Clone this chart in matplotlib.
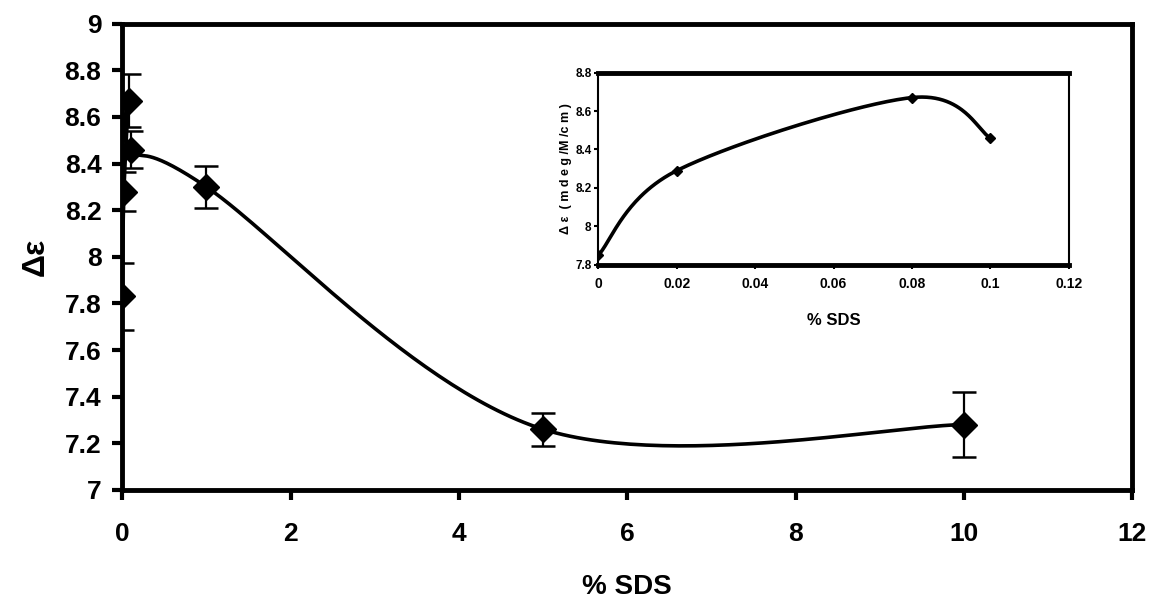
import numpy as np
import matplotlib.pyplot as plt

# main chart data
sds = [0, 0.02, 0.08, 0.1, 1, 5, 10]
de = [7.83, 8.28, 8.67, 8.46, 8.30, 7.26, 7.28]
de_err = [0.145, 0.085, 0.115, 0.08, 0.09, 0.07, 0.14]

# inset data
sds_in = [0, 0.02, 0.08, 0.1]
de_in = [7.85, 8.29, 8.67, 8.46]

arial = ['Liberation Sans', 'DejaVu Sans']


def smooth(x_, y_, n_=60):
    # excel-like smoothed line: bezier with control points (P2 - P0) / 6
    p = np.column_stack([x_, y_]).astype(float)
    out = []
    for i in range(len(p) - 1):
        p0 = p[i - 1] if i > 0 else p[i]
        p1, p2 = p[i], p[i + 1]
        p3 = p[i + 2] if i + 2 < len(p) else p[i + 1]
        c1 = p1 + (p2 - p0) / 6
        c2 = p2 - (p3 - p1) / 6
        t = np.linspace(0, 1, n_)[:, None]
        seg = (1 - t) ** 3 * p1 + 3 * (1 - t) ** 2 * t * c1 + 3 * (1 - t) * t ** 2 * c2 + t ** 3 * p2
        out.append(seg)
    out = np.vstack(out)
    return out[:, 0], out[:, 1]


fig = plt.figure(figsize=(11.53, 6.10), dpi=100)
ax = fig.add_axes([0.106, 0.197, 0.876, 0.764])

sx, sy = smooth(sds, de)
ax.plot(sx, sy, color='black', lw=2.6, zorder=2)
ax.errorbar(sds, de, yerr=de_err, fmt='D', color='black', ms=13, ecolor='black',
            elinewidth=1.6, capsize=8.5, capthick=1.8, zorder=3)

ax.set_xlim(0, 12)
ax.set_ylim(7, 9)
ax.set_xticks(np.arange(0, 13, 2))
ax.set_yticks(np.arange(7, 9.01, 0.2))
ax.set_yticklabels([f"{v:g}" for v in np.round(np.arange(7, 9.01, 0.2), 1)],
                   fontsize=19, fontweight='bold', family=arial)
ax.set_xticklabels([str(v) for v in range(0, 13, 2)], fontsize=19, fontweight='bold', family=arial)
ax.tick_params(direction='out', length=7, width=3)
ax.tick_params(axis='x', pad=16)
ax.tick_params(axis='y', pad=8)
for s in ax.spines.values():
    s.set_linewidth(3.5)
ax.set_xlabel('% SDS', fontsize=20, fontweight='bold', family=arial, labelpad=20)
ax.set_ylabel('Δε', fontsize=23, fontweight='bold', family=arial, labelpad=10)

# inset
ins = fig.add_axes([0.519, 0.566, 0.408, 0.315])
ix, iy = smooth(sds_in, de_in)
ins.plot(ix, iy, color='black', lw=2.6)
ins.plot(sds_in, de_in, 'D', color='black', ms=5)
ins.set_xlim(0, 0.12)
ins.set_ylim(7.8, 8.8)
ins.set_xticks(np.arange(0, 0.121, 0.02))
ins.set_xticklabels(['0', '0.02', '0.04', '0.06', '0.08', '0.1', '0.12'],
                    fontsize=10, fontweight='bold', family=arial)
ins.set_yticks(np.arange(7.8, 8.81, 0.2))
ins.set_yticklabels(['7.8', '8', '8.2', '8.4', '8.6', '8.8'],
                    fontsize=8.5, fontweight='bold', family=arial)
ins.tick_params(direction='out', length=3, width=1.5)
ins.tick_params(axis='x', pad=6)
ins.tick_params(axis='y', pad=2)
ins.spines['top'].set_linewidth(3.5)
ins.spines['bottom'].set_linewidth(3.5)
ins.spines['left'].set_linewidth(1.5)
ins.spines['right'].set_linewidth(1.5)
ins.set_xlabel('% SDS', fontsize=12, fontweight='bold', family=arial, labelpad=16)
ins.set_ylabel('Δ ε  ( m d e g /M /c m )', fontsize=9, fontweight='bold', family=arial, labelpad=2)

fig.savefig('out.png', dpi=100)
